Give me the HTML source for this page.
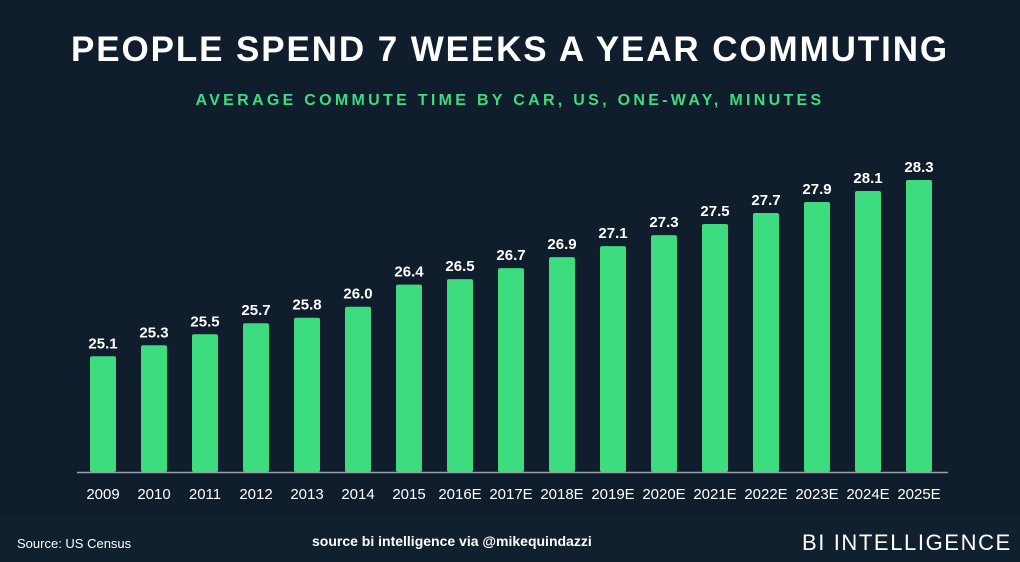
<!DOCTYPE html>
<html><head><meta charset="utf-8"><style>
body{margin:0;width:1020px;height:562px;background:#0f1d2c;overflow:hidden;font-family:"Liberation Sans",sans-serif;position:relative}
#footer{position:absolute;left:0;top:515px;width:1020px;height:47px;background:#11202e}
.t{position:absolute;white-space:nowrap}
</style></head><body>
<div id="footer"></div>
<div class="t" style="left:0;width:1020px;text-align:center;top:30px;font-size:35px;font-weight:bold;color:#fff;letter-spacing:1.9px">PEOPLE SPEND 7 WEEKS A YEAR COMMUTING</div>
<div class="t" style="left:0;width:1020px;text-align:center;top:92px;font-size:16px;font-weight:bold;color:#3ddc7e;letter-spacing:3.3px">AVERAGE COMMUTE TIME BY CAR, US, ONE-WAY, MINUTES</div>
<svg id="chart" width="1020" height="562" style="position:absolute;left:0;top:0"></svg>
<div class="t" style="left:17px;top:536px;font-size:13px;color:#fff">Source: US Census</div>
<div class="t" style="left:312px;top:533px;font-size:14px;font-weight:bold;color:#fff">source bi intelligence via @mikequindazzi</div>
<div class="t" style="left:802px;top:530px;font-size:22px;color:#fff;letter-spacing:1.6px">BI INTELLIGENCE</div>
<script>
const categories=["2009","2010","2011","2012","2013","2014","2015","2016E","2017E","2018E","2019E","2020E","2021E","2022E","2023E","2024E","2025E"];
const values=[25.1,25.3,25.5,25.7,25.8,26.0,26.4,26.5,26.7,26.9,27.1,27.3,27.5,27.7,27.9,28.1,28.3];
const yMin=23;
const svg=document.getElementById('chart');
const NS='http://www.w3.org/2000/svg';
const base=472, pxPerUnit=55.1;
function y(v){return base-(v-yMin)*pxPerUnit;}
function x(i){return 103+i*51;}
const ax=document.createElementNS(NS,'line');
ax.setAttribute('x1',77);ax.setAttribute('x2',948);ax.setAttribute('y1',472.5);ax.setAttribute('y2',472.5);
ax.setAttribute('stroke','#9aa3ab');ax.setAttribute('stroke-width','1.5');


svg.appendChild(ax);
categories.forEach((c,i)=>{
  const r=document.createElementNS(NS,'rect');
  r.setAttribute('x',x(i)-13);r.setAttribute('width',26);
  r.setAttribute('y',y(values[i]));r.setAttribute('height',base-y(values[i]));
  r.setAttribute('rx',2);r.setAttribute('fill','#3ddc7e');
  
  
  svg.appendChild(r);
  const v=document.createElementNS(NS,'text');
  v.setAttribute('x',x(i));v.setAttribute('y',y(values[i])-8);
  v.setAttribute('text-anchor','middle');v.setAttribute('fill','#fff');
  v.setAttribute('font-size','15');v.setAttribute('font-weight','bold');
  v.setAttribute('font-family','Liberation Sans, sans-serif');
  v.textContent=values[i].toFixed(1);
  
  
  svg.appendChild(v);
  const t=document.createElementNS(NS,'text');
  t.setAttribute('x',x(i));t.setAttribute('y',499);
  t.setAttribute('text-anchor','middle');t.setAttribute('fill','#fff');
  t.setAttribute('font-size','15');
  t.setAttribute('font-family','Liberation Sans, sans-serif');
  t.textContent=c;
  
  
  svg.appendChild(t);
});
</script>
</body></html>
